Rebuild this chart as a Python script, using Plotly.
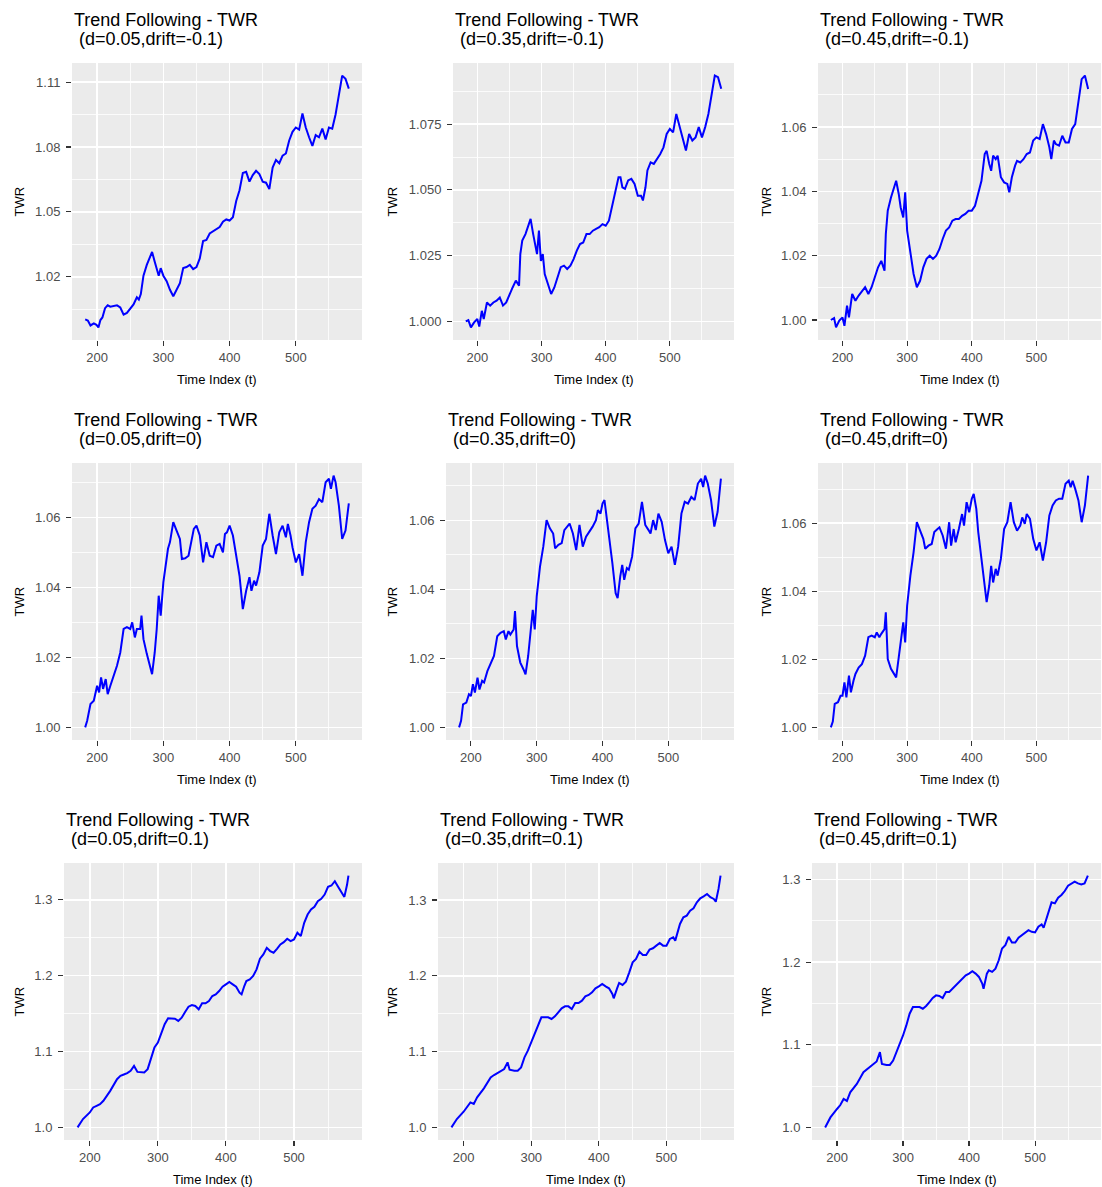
import plotly.graph_objects as go

W, H = 1102, 1187

# ---------------- data ----------------
T1 = [182,186,190,195,199,202,205,208,212,216,220,225,230,235,240,245,250,255,260,263,266,270,275,280,283,287,290,293,296,300,305,310,315,320,325,330,335,340,345,350,355,360,365,370,375,380,385,390,395,400,405,410,415,420,425,430,435,440,445,450,455,460,465,470,475,480,485,490,495,500,505,510,515,520,525,530,535,540,545,550,555,560,565,570,575,580]
V1 = [1.0003,0.9998,0.9975,0.9985,0.9978,0.9966,1.0000,1.0012,1.0055,1.0068,1.0062,1.0065,1.0068,1.0058,1.0025,1.0033,1.0050,1.0072,1.0105,1.0095,1.0120,1.0205,1.0255,1.0290,1.0315,1.0270,1.0235,1.0205,1.0240,1.0205,1.0180,1.0140,1.0110,1.0140,1.0170,1.0240,1.0245,1.0255,1.0235,1.0245,1.0285,1.0365,1.0370,1.0400,1.0410,1.0420,1.0430,1.0455,1.0465,1.0460,1.0475,1.0550,1.0600,1.0680,1.0685,1.0640,1.0670,1.0690,1.0675,1.0640,1.0635,1.0605,1.0705,1.0740,1.0725,1.0760,1.0770,1.0830,1.0870,1.0890,1.0880,1.0955,1.0890,1.0845,1.0805,1.0855,1.0845,1.0885,1.0835,1.0890,1.0885,1.0950,1.1045,1.1130,1.1115,1.1070]

T2 = [182,186,190,195,200,203,207,210,215,220,225,230,235,240,245,250,255,260,265,267,270,275,280,283,287,290,293,296,299,302,305,310,315,320,325,330,335,340,345,350,355,360,365,370,375,380,385,390,395,400,405,410,415,420,423,426,430,435,440,445,450,455,458,462,465,470,475,480,485,490,495,500,505,510,515,520,525,530,535,540,545,550,555,560,565,570,575,580]
V2 = [1.0000,1.0005,0.9977,0.9996,1.0009,0.9980,1.0040,1.0009,1.0072,1.0060,1.0072,1.0079,1.0091,1.0060,1.0072,1.0104,1.0129,1.0155,1.0136,1.0256,1.0307,1.0332,1.0370,1.0390,1.0332,1.0294,1.0256,1.0345,1.0230,1.0256,1.0180,1.0142,1.0104,1.0129,1.0168,1.0206,1.0212,1.0199,1.0212,1.0237,1.0269,1.0294,1.0300,1.0332,1.0332,1.0345,1.0352,1.0358,1.0370,1.0364,1.0383,1.0434,1.0485,1.0548,1.0548,1.0510,1.0504,1.0536,1.0542,1.0523,1.0478,1.0478,1.0460,1.0510,1.0574,1.0605,1.0599,1.0618,1.0637,1.0662,1.0713,1.0732,1.0719,1.0789,1.0739,1.0700,1.0650,1.0713,1.0688,1.0700,1.0739,1.0700,1.0739,1.0789,1.0865,1.0935,1.0929,1.0885]

T3 = [182,187,190,195,200,203,207,210,215,218,220,225,230,235,240,245,250,255,260,265,267,270,275,280,283,287,290,294,297,300,305,310,315,320,325,330,335,340,345,350,355,360,365,370,375,380,385,390,395,400,405,410,415,420,423,427,430,433,437,440,445,450,455,458,462,467,470,475,480,485,490,495,500,505,510,515,520,523,527,530,535,540,545,550,555,560,565,570,575,580]
V3 = [1.0000,1.0006,0.9977,0.9998,1.0008,0.9982,1.0045,1.0008,1.0081,1.0070,1.0060,1.0076,1.0091,1.0102,1.0081,1.0102,1.0133,1.0164,1.0184,1.0153,1.0267,1.0340,1.0381,1.0418,1.0433,1.0392,1.0350,1.0319,1.0397,1.0278,1.0205,1.0143,1.0102,1.0122,1.0164,1.0190,1.0200,1.0190,1.0200,1.0221,1.0252,1.0278,1.0288,1.0309,1.0314,1.0314,1.0324,1.0330,1.0340,1.0340,1.0355,1.0392,1.0433,1.0516,1.0526,1.0485,1.0464,1.0511,1.0500,1.0511,1.0444,1.0428,1.0423,1.0397,1.0444,1.0480,1.0495,1.0490,1.0500,1.0516,1.0521,1.0558,1.0568,1.0563,1.0609,1.0578,1.0537,1.0500,1.0558,1.0547,1.0542,1.0573,1.0552,1.0552,1.0594,1.0609,1.0682,1.0749,1.0760,1.0718]

T4 = [182,185,190,195,200,203,206,209,213,216,220,225,230,235,240,245,250,253,257,260,265,267,270,275,280,283,287,290,293,296,300,303,307,310,315,320,325,328,333,338,342,346,350,355,360,365,370,375,380,385,390,393,396,400,405,410,415,420,425,430,433,437,440,445,450,455,460,465,470,475,480,485,488,492,495,500,505,510,515,520,525,530,535,540,545,550,553,557,560,565,570,575,580]
V4 = [1.0000,1.0019,1.0067,1.0076,1.0119,1.0100,1.0143,1.0110,1.0138,1.0095,1.0119,1.0148,1.0176,1.0214,1.0281,1.0286,1.0281,1.0300,1.0257,1.0281,1.0281,1.0319,1.0252,1.0210,1.0176,1.0152,1.0214,1.0281,1.0376,1.0319,1.0414,1.0462,1.0510,1.0529,1.0586,1.0562,1.0538,1.0481,1.0483,1.0490,1.0529,1.0567,1.0576,1.0548,1.0471,1.0529,1.0490,1.0486,1.0519,1.0524,1.0500,1.0552,1.0557,1.0576,1.0548,1.0490,1.0433,1.0338,1.0390,1.0429,1.0390,1.0419,1.0405,1.0443,1.0519,1.0538,1.0610,1.0548,1.0495,1.0557,1.0576,1.0543,1.0581,1.0548,1.0514,1.0471,1.0495,1.0433,1.0529,1.0586,1.0624,1.0633,1.0652,1.0643,1.0700,1.0710,1.0681,1.0719,1.0700,1.0633,1.0538,1.0562,1.0640]

T5 = [182,185,188,193,197,200,203,206,210,213,217,220,225,230,235,240,245,250,253,257,260,265,267,270,275,280,283,287,290,294,297,300,305,310,315,320,325,328,333,338,342,347,350,355,360,365,370,375,380,385,390,393,397,400,403,407,410,415,420,423,427,430,433,437,440,445,450,455,460,465,470,473,477,481,485,490,495,500,505,510,515,520,525,530,535,540,545,550,553,556,560,565,570,575,580]
V5 = [1.0000,1.0019,1.0067,1.0072,1.0096,1.0091,1.0125,1.0101,1.0144,1.0110,1.0135,1.0130,1.0163,1.0183,1.0207,1.0264,1.0274,1.0279,1.0255,1.0279,1.0269,1.0284,1.0337,1.0236,1.0188,1.0168,1.0154,1.0207,1.0264,1.0341,1.0284,1.0380,1.0466,1.0524,1.0601,1.0577,1.0562,1.0519,1.0529,1.0534,1.0572,1.0582,1.0591,1.0562,1.0514,1.0587,1.0524,1.0553,1.0567,1.0582,1.0601,1.0630,1.0620,1.0649,1.0659,1.0601,1.0543,1.0476,1.0389,1.0375,1.0438,1.0471,1.0428,1.0462,1.0457,1.0495,1.0577,1.0591,1.0654,1.0587,1.0572,1.0562,1.0601,1.0572,1.0620,1.0596,1.0543,1.0505,1.0524,1.0471,1.0524,1.0620,1.0654,1.0649,1.0668,1.0659,1.0707,1.0721,1.0697,1.0730,1.0707,1.0659,1.0582,1.0625,1.0721]

T6 = [182,185,188,193,197,200,203,206,210,213,217,220,225,230,235,240,245,250,253,257,260,265,267,270,275,280,283,287,290,294,297,300,305,310,315,320,325,328,333,338,342,347,350,355,360,365,368,372,375,380,385,388,392,396,400,403,407,410,415,420,423,427,430,433,437,440,445,450,455,460,465,470,475,478,482,485,490,495,500,505,510,515,520,525,530,535,540,545,550,553,556,560,565,570,575,580]
V6 = [1.0000,1.0017,1.0069,1.0074,1.0093,1.0093,1.0132,1.0088,1.0152,1.0103,1.0137,1.0157,1.0176,1.0186,1.0211,1.0265,1.0270,1.0265,1.0279,1.0265,1.0275,1.0289,1.0338,1.0201,1.0172,1.0157,1.0147,1.0206,1.0250,1.0309,1.0250,1.0358,1.0446,1.0515,1.0603,1.0578,1.0554,1.0525,1.0534,1.0539,1.0574,1.0583,1.0588,1.0564,1.0525,1.0603,1.0534,1.0583,1.0544,1.0583,1.0627,1.0593,1.0662,1.0632,1.0672,1.0686,1.0642,1.0574,1.0495,1.0407,1.0368,1.0417,1.0475,1.0426,1.0466,1.0446,1.0495,1.0583,1.0603,1.0662,1.0603,1.0578,1.0593,1.0617,1.0598,1.0627,1.0613,1.0554,1.0520,1.0544,1.0490,1.0544,1.0623,1.0652,1.0667,1.0672,1.0672,1.0716,1.0725,1.0706,1.0725,1.0701,1.0667,1.0603,1.0652,1.0740]

T7 = [182,190,200,205,210,215,220,230,240,245,250,255,260,265,270,275,280,285,290,295,300,305,310,315,320,325,330,335,340,345,350,355,360,365,370,375,380,385,390,395,400,405,410,415,420,423,427,430,435,440,445,450,455,460,465,470,475,480,485,490,495,500,505,510,515,520,525,530,535,540,545,550,555,560,565,570,574,578,580]
V7 = [1.000,1.011,1.0197,1.0263,1.0285,1.0307,1.0351,1.0482,1.0636,1.0680,1.0697,1.0715,1.0746,1.0811,1.0732,1.0724,1.0724,1.0768,1.0899,1.1053,1.1118,1.1250,1.1360,1.1439,1.1439,1.1434,1.1404,1.1447,1.1522,1.1592,1.1614,1.1601,1.1557,1.1636,1.1636,1.1667,1.1732,1.1754,1.1798,1.1855,1.1886,1.1917,1.1886,1.1855,1.1776,1.1754,1.1864,1.1930,1.1952,1.1996,1.2083,1.2224,1.2281,1.2368,1.2325,1.2303,1.2355,1.2412,1.2443,1.2487,1.2456,1.2478,1.2566,1.2522,1.2697,1.2807,1.2873,1.2908,1.2982,1.3013,1.3070,1.3171,1.3189,1.3246,1.3171,1.3101,1.3039,1.3202,1.3320]

T8 = [182,190,200,205,210,215,220,230,240,245,250,255,260,265,268,275,280,285,290,295,300,305,310,315,320,325,330,335,340,345,350,355,360,365,370,375,380,385,390,395,400,405,410,415,420,422,427,430,435,440,445,450,455,460,465,470,475,480,485,490,495,500,505,510,513,520,525,530,535,540,545,550,555,560,565,570,573,577,580]
V8 = [1.000,1.011,1.0207,1.0264,1.0330,1.0310,1.0396,1.0515,1.0660,1.0691,1.0717,1.0748,1.0770,1.0858,1.0761,1.0748,1.0748,1.0792,1.0924,1.1012,1.1122,1.1254,1.1364,1.1452,1.1452,1.1452,1.1430,1.1465,1.1518,1.1571,1.1597,1.1597,1.1562,1.1641,1.1641,1.1672,1.1729,1.1747,1.1782,1.1835,1.1861,1.1892,1.1861,1.1835,1.1760,1.1703,1.1835,1.1905,1.1879,1.1923,1.2046,1.2178,1.2222,1.2319,1.2275,1.2275,1.2345,1.2363,1.2398,1.2433,1.2398,1.2398,1.2486,1.2508,1.2464,1.2684,1.2772,1.2794,1.2860,1.2890,1.2970,1.3022,1.3049,1.3080,1.3036,1.3014,1.2978,1.3146,1.3322]

T9 = [182,190,200,205,210,215,220,230,240,245,250,255,260,265,268,275,280,285,290,295,300,305,310,315,320,325,330,335,340,345,350,355,360,365,370,375,380,385,390,395,400,405,410,415,420,422,427,430,435,440,445,450,455,460,465,470,475,480,485,490,495,500,505,510,513,520,525,530,535,540,545,550,555,560,565,570,575,580]
V9 = [1.000,1.0121,1.0223,1.0271,1.0344,1.0320,1.0425,1.0526,1.0668,1.0700,1.0729,1.0769,1.0798,1.0911,1.0769,1.0757,1.0757,1.0810,1.0911,1.0992,1.1113,1.1235,1.1377,1.1457,1.1457,1.1457,1.1437,1.1470,1.1518,1.1567,1.1599,1.1591,1.1567,1.1640,1.1640,1.1680,1.1729,1.1761,1.1802,1.1842,1.1862,1.1891,1.1862,1.1822,1.1741,1.1680,1.1862,1.1903,1.1883,1.1923,1.2024,1.2166,1.2206,1.2308,1.2239,1.2239,1.2296,1.2328,1.2360,1.2389,1.2368,1.2360,1.2429,1.2457,1.2417,1.2611,1.2725,1.2713,1.2781,1.2814,1.2862,1.2927,1.2955,1.2976,1.2955,1.2943,1.2955,1.3049]

D_VALUES = ["0.05", "0.35", "0.45"]          # columns
DRIFTS = ["-0.1", "0", "0.1"]                # rows
X_TICKS = [200, 300, 400, 500]
Y_TICKS = [
    [1.02, 1.05, 1.08, 1.11], [1.000, 1.025, 1.050, 1.075], [1.00, 1.02, 1.04, 1.06],
    [1.00, 1.02, 1.04, 1.06], [1.00, 1.02, 1.04, 1.06], [1.00, 1.02, 1.04, 1.06],
    [1.0, 1.1, 1.2, 1.3], [1.0, 1.1, 1.2, 1.3], [1.0, 1.1, 1.2, 1.3],
]
Y_LABELS = [
    ["1.02", "1.05", "1.08", "1.11"], ["1.000", "1.025", "1.050", "1.075"], ["1.00", "1.02", "1.04", "1.06"],
    ["1.00", "1.02", "1.04", "1.06"], ["1.00", "1.02", "1.04", "1.06"], ["1.00", "1.02", "1.04", "1.06"],
    ["1.0", "1.1", "1.2", "1.3"], ["1.0", "1.1", "1.2", "1.3"], ["1.0", "1.1", "1.2", "1.3"],
]
SERIES = [(T1, V1), (T2, V2), (T3, V3), (T4, V4), (T5, V5), (T6, V6), (T7, V7), (T8, V8), (T9, V9)]

# ---------------- layout geometry (pixels) ----------------
# (left, right, top, bottom) of each panel
BOXES = [
    (72, 362, 63, 340), (453, 734, 63, 340), (818, 1101, 63, 340),
    (72, 362, 463, 740), (446, 734, 463, 740), (818, 1101, 463, 740),
    (64, 362, 863, 1140), (438, 734, 863, 1140), (812, 1101, 863, 1140),
]
YTITLE_X = [19, 392, 766]

FONT = "Liberation Sans, Arial, sans-serif"
BG = "#EBEBEB"


def px(x):
    return x / W


def py(y):
    return 1 - y / H


def mids(ticks):
    step = ticks[1] - ticks[0]
    out = [ticks[0] - step / 2]
    for a in ticks:
        out.append(a + step / 2)
    return out


def expand(lo, hi, f=0.05):
    s = hi - lo
    return [lo - f * s, hi + f * s]


fig = go.Figure()
layout = dict(
    width=W, height=H, margin=dict(l=0, r=0, t=0, b=0),
    paper_bgcolor="white", showlegend=False,
    font=dict(family=FONT, color="black"),
)
annotations = []

for i, ((t, v), (l, r, tp, bt)) in enumerate(zip(SERIES, BOXES)):
    assert len(t) == len(v), (i, len(t), len(v))
    n = "" if i == 0 else str(i + 1)
    xa, ya = "x" + n, "y" + n
    fig.add_trace(go.Scatter(x=t, y=v, mode="lines", xaxis=xa, yaxis=ya,
                             line=dict(color="#0000FF", width=2.0), hoverinfo="skip"))
    yt = Y_TICKS[i]
    common = dict(
        showgrid=True, gridcolor="white", gridwidth=1.5, zeroline=False, showline=False,
        ticks="outside", ticklen=5, tickwidth=1.1, tickcolor="#333333",
        tickfont=dict(family=FONT, size=13, color="#4D4D4D"),
        tickmode="array",
    )
    layout["xaxis" + n] = dict(
        common, domain=[px(l), px(r)], anchor=ya,
        range=expand(min(t), max(t)), tickvals=X_TICKS, ticktext=[str(x) for x in X_TICKS],
        minor=dict(tickvals=mids(X_TICKS), showgrid=True, gridcolor="white", gridwidth=0.8, ticks=""),
        ticklabelstandoff=0,
    )
    layout["yaxis" + n] = dict(
        common, domain=[py(bt), py(tp)], anchor=xa,
        range=expand(min(v), max(v)), tickvals=yt, ticktext=Y_LABELS[i],
        minor=dict(tickvals=mids(yt), showgrid=True, gridcolor="white", gridwidth=0.8, ticks=""),
        ticklabelstandoff=3,
    )
    row, col = divmod(i, 3)
    # titles
    annotations.append(dict(text="Trend Following - TWR", x=px(l), y=py(tp - 43), xref="paper", yref="paper",
                            xanchor="left", yanchor="middle", showarrow=False,
                            font=dict(family=FONT, size=18, color="black")))
    annotations.append(dict(text="&nbsp;(d=%s,drift=%s)" % (D_VALUES[col], DRIFTS[row]),
                            x=px(l), y=py(tp - 24), xref="paper", yref="paper",
                            xanchor="left", yanchor="middle", showarrow=False,
                            font=dict(family=FONT, size=18, color="black")))
    # axis titles
    annotations.append(dict(text="Time Index (t)", x=px((l + r) / 2), y=py(bt + 39), xref="paper", yref="paper",
                            xanchor="center", yanchor="middle", showarrow=False,
                            font=dict(family=FONT, size=13, color="black")))
    annotations.append(dict(text="TWR", x=px(YTITLE_X[col]), y=py((tp + bt) / 2), xref="paper", yref="paper",
                            xanchor="center", yanchor="middle", showarrow=False, textangle=-90,
                            font=dict(family=FONT, size=13, color="black")))

layout["annotations"] = annotations
layout["plot_bgcolor"] = BG
fig.update_layout(**layout)
fig.write_html("out.html",
               config={"displayModeBar": False, "staticPlot": True},
               post_script="document.body.style.margin='0';document.body.style.overflow='hidden';")
